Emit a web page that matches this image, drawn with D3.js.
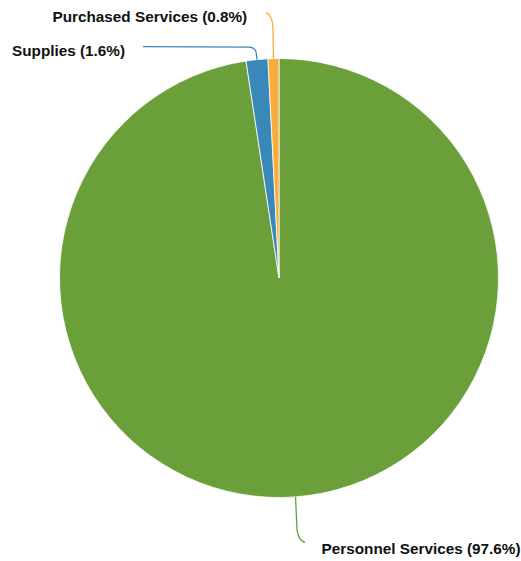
<!DOCTYPE html>
<html><head><meta charset="utf-8">
<script src="https://cdn.jsdelivr.net/npm/d3@7"></script>
<style>
html,body{margin:0;padding:0;background:#fff;}
svg{display:block;}
text{font-family:"Liberation Sans",Arial,Helvetica,sans-serif;font-weight:bold;font-size:15.3px;fill:#111;}
</style></head>
<body>
<svg id="chart" width="521" height="561"></svg>
<script>
const categories = ["Personnel Services", "Supplies", "Purchased Services"];
const values = [97.6, 1.6, 0.8];
const labels = ["Personnel Services (97.6%)", "Supplies (1.6%)", "Purchased Services (0.8%)"];
const colors = ["#6a9f3a", "#3a87b9", "#f6ad3c"];

const svg = d3.select("#chart");
const cx = 279, cy = 278, R = 219.5;
const g = svg.append("g").attr("transform", `translate(${cx},${cy})`);

const data = categories.map((c, i) => ({cat: c, value: values[i], label: labels[i], color: colors[i]}));
const pie = d3.pie().value(d => d.value).sort(null);
const arcs = pie(data);
const arc = d3.arc().innerRadius(0).outerRadius(R);
const edgeArc = d3.arc().innerRadius(R).outerRadius(R);

g.selectAll("path.slice").data(arcs).join("path")
  .attr("class", "slice")
  .attr("d", arc)
  .attr("fill", d => d.data.color)
  .attr("stroke", "#fff")
  .attr("stroke-width", 0.8);

// leader line layouts (relative to chart centre)
function leader(d, i) {
  const [x0, y0] = edgeArc.centroid(d);
  const p = d3.path();
  p.moveTo(x0, y0);
  if (i === 0) {
    p.lineTo(x0 + 1.5, y0 + 33);
    p.quadraticCurveTo(x0 + 3, y0 + 44, x0 + 9.5, y0 + 45.5);
    return {path: p.toString(), tx: x0 + 26, ty: y0 + 57, anchor: "start"};
  } else if (i === 1) {
    p.lineTo(x0 - 0.8, y0 - 7);
    p.quadraticCurveTo(x0 - 1.5, y0 - 12, x0 - 8, y0 - 12.5);
    p.lineTo(143 - cx, y0 - 13);
    return {path: p.toString(), tx: 12 - cx, ty: y0 - 4, anchor: "start"};
  } else {
    p.lineTo(x0 - 0.5, y0 - 30);
    p.quadraticCurveTo(x0 - 1, y0 - 44, x0 - 7.5, y0 - 46);
    return {path: p.toString(), tx: 52.5 - cx, ty: y0 - 37, anchor: "start"};
  }
}

const L = arcs.map((d, i) => ({d, ...leader(d, i)}));

g.selectAll("path.leader").data(L).join("path")
  .attr("class", "leader")
  .attr("d", l => l.path)
  .attr("fill", "none")
  .attr("stroke", l => l.d.data.color)
  .attr("stroke-width", 1.3);

g.selectAll("text.lbl").data(L).join("text")
  .attr("class", "lbl")
  .attr("x", l => l.tx)
  .attr("y", l => l.ty)
  .attr("text-anchor", l => l.anchor)
  .text(l => l.d.data.label);
</script>
</body></html>
